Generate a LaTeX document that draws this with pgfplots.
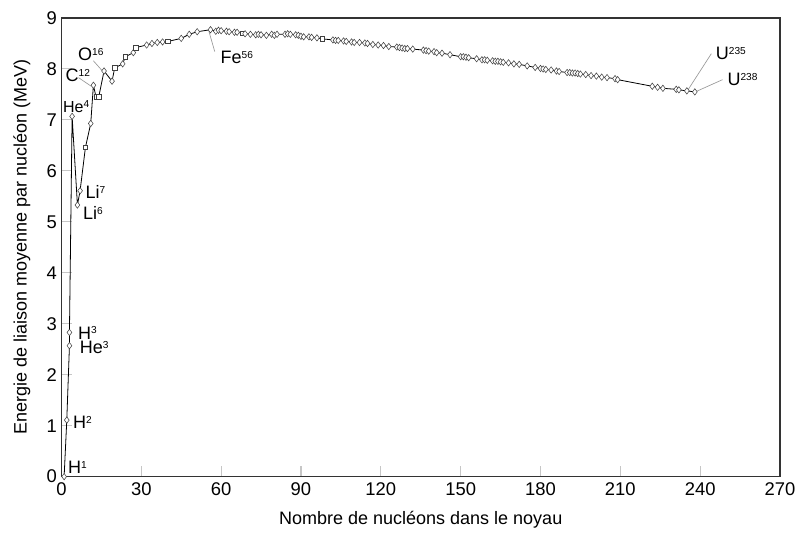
\documentclass[border=0pt]{standalone}
\usepackage{fontspec}
\setmainfont{Liberation Sans}
\usepackage{pgfplots}
\pgfplotsset{compat=1.18}

% small raised mass number, top level with the capitals
\newcommand{\massnum}[1]{\raisebox{3.8pt}{\fontsize{7.6}{9}\selectfont #1}}

% binding energy per nucleon, A / MeV / marker class (d = diamond, s = square)
\pgfplotstableread{
A E t
1 0.00 d
2 1.11 d
3 2.57 d
3 2.83 d
4 7.07 d
6 5.33 d
7 5.61 d
9 6.46 s
11 6.93 d
12 7.68 d
13 7.45 s
14 7.45 s
16 7.96 d
19 7.76 d
20 8.02 s
23 8.10 d
24 8.24 s
27 8.32 d
28 8.42 s
32 8.47 d
34 8.50 d
36 8.52 d
38 8.53 d
40 8.54 s
45 8.60 d
48 8.68 d
51 8.73 d
56 8.77 d
58 8.74 d
59 8.76 d
60 8.75 d
62 8.74 d
63 8.73 d
65 8.72 d
66 8.72 d
68 8.70 s
69 8.69 d
71 8.68 d
73 8.67 d
74 8.68 d
75 8.67 d
77 8.66 d
79 8.68 d
80 8.66 d
81 8.68 d
84 8.68 d
85 8.69 d
86 8.68 d
88 8.67 d
89 8.66 d
90 8.64 d
91 8.63 d
93 8.63 d
94 8.62 d
96 8.61 d
98 8.59 s
102 8.57 d
103 8.56 d
104 8.56 d
106 8.55 d
107 8.54 d
109 8.53 d
110 8.52 d
112 8.52 d
114 8.51 d
115 8.50 d
117 8.48 d
119 8.47 d
121 8.46 d
123 8.44 d
126 8.43 d
127 8.42 d
128 8.41 d
129 8.40 d
130 8.40 d
132 8.39 d
136 8.37 d
137 8.36 d
138 8.35 d
140 8.34 d
141 8.32 d
143 8.31 d
146 8.28 d
150 8.24 d
151 8.24 d
152 8.23 d
153 8.22 d
156 8.20 d
158 8.18 d
159 8.18 d
160 8.17 d
162 8.16 d
163 8.15 d
164 8.15 d
165 8.14 d
166 8.13 d
168 8.12 d
170 8.10 d
172 8.09 d
175 8.06 d
178 8.03 d
180 8.01 d
181 8.00 d
182 7.99 d
184 7.98 d
186 7.96 d
187 7.95 d
190 7.93 d
191 7.93 d
192 7.92 d
193 7.92 d
194 7.91 d
195 7.90 d
197 7.89 d
199 7.87 d
201 7.86 d
203 7.84 d
205 7.83 d
208 7.81 d
209 7.79 d
222 7.66 d
224 7.64 d
226 7.62 d
231 7.60 d
232 7.59 d
235 7.57 d
238 7.55 d
}\bindingtable

\begin{document}
\begin{tikzpicture}
\begin{axis}[
    name=main,
    scale only axis,
    width=538.9pt, height=344pt,
    xmin=0, xmax=270, ymin=0, ymax=9,
    xtick={0,30,...,270}, ytick={0,1,...,9},
    xtick pos=bottom, ytick pos=left,
    tick align=inside,
    major tick length=8pt,
    tick style={gray!45, line width=0.8pt},
    axis line style={black!80, line width=0.8pt},
    /pgf/number format/assume math mode=true,
    ticklabel style={font=\fontsize{13.8}{16}\selectfont},
    xticklabel style={yshift=-1pt},
    label style={font=\fontsize{13.5}{16}\selectfont},
    xlabel={Nombre de nucléons dans le noyau},
    ylabel={Energie de liaison moyenne par nucléon (MeV)},
    xlabel style={at={(axis description cs:0.5,-0.0944)}, anchor=center},
    ylabel style={at={(axis description cs:-0.055,0.5)}, anchor=center},
    clip=false,
]
  \addplot[black, line width=0.6pt,
    scatter, scatter src=explicit symbolic,
    scatter/classes={
      d={mark=diamond*, mark size=2.4pt, fill=white, draw=black!75, line width=0.4pt},
      s={mark=square*, mark size=1.7pt, fill=white, draw=black!75, line width=0.4pt}}]
    table[x=A, y=E, meta=t] {\bindingtable};

  % leader lines
  \draw[gray!80, line width=0.5pt] (axis cs:6.4,7.83) -- (axis cs:11.2,7.66);
  \draw[gray!80, line width=0.5pt] (axis cs:12.0,8.16) -- (axis cs:15.4,7.96);
  \draw[gray!80, line width=0.5pt] (axis cs:57.6,8.34) -- (axis cs:55.4,8.74);
  \draw[gray!80, line width=0.5pt] (axis cs:244.2,8.30) -- (axis cs:235.3,7.58);
  \draw[gray!80, line width=0.5pt] (axis cs:248.4,7.79) -- (axis cs:238.6,7.56);

  % nuclide labels
  \tikzset{nuc/.style={anchor=base west, inner sep=0pt, font=\fontsize{13.5}{16}\selectfont}}
  \node[nuc] at (axis cs:2.4,0.07) {H\massnum{1}};
  \node[nuc] at (axis cs:4.3,0.95) {H\massnum{2}};
  \node[nuc] at (axis cs:6.2,2.70) {H\massnum{3}};
  \node[nuc] at (axis cs:6.8,2.41) {He\massnum{3}};
  \node[nuc, font=\fontsize{12}{14}\selectfont] at (axis cs:0.5,7.14) {He\massnum{4}};
  \node[nuc] at (axis cs:9.0,5.45) {Li\massnum{7}};
  \node[nuc] at (axis cs:8.0,5.05) {Li\massnum{6}};
  \node[nuc] at (axis cs:1.5,7.76) {C\massnum{12}};
  \node[nuc] at (axis cs:6.2,8.17) {O\massnum{16}};
  \node[nuc] at (axis cs:59.7,8.11) {Fe\massnum{56}};
  \node[nuc] at (axis cs:245.8,8.19) {U\massnum{235}};
  \node[nuc] at (axis cs:250.2,7.68) {U\massnum{238}};
\end{axis}
\pgfresetboundingbox
\path[use as bounding box] ([xshift=-46.1pt, yshift=-47.5pt]main.south west)
  rectangle ([xshift=17.25pt, yshift=13.5pt]main.north east);
\end{tikzpicture}
\end{document}
